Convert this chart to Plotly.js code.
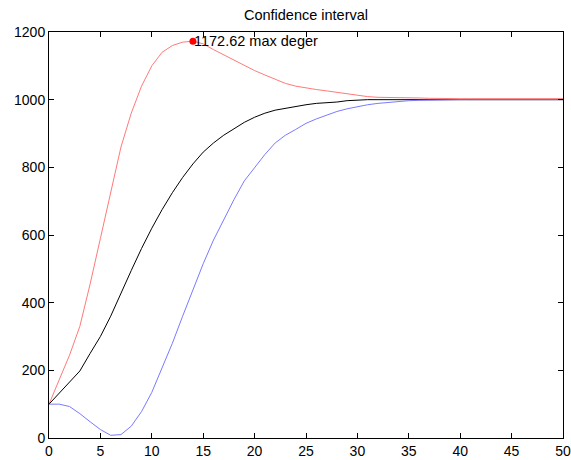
<!DOCTYPE html>
<html>
<head>
<meta charset="utf-8">
<script src="https://cdn.plot.ly/plotly-3.0.1.min.js"></script>
<style>html,body{margin:0;padding:0;background:#fff;}#chart{width:571px;height:460px;}</style>
</head>
<body>
<div id="chart"></div>
<script>
var steps = [0,1,2,3,4,5,6,7,8,9,10,11,12,13,14,15,16,17,18,19,20,21,22,23,24,25,26,27,28,29,30,31,32,33,34,35,36,37,38,39,40,41,42,43,44,45,46,47,48,49,50];
var meanVals = [100,133,166,198,250,300,360,430,495,560,620,675,725,770,810,845,872,895,915,933,948,960,969,975,980,985,989,990,993,997,999,1000,1000,1000,1000,1000,1000,1000,1000,1000,1000,1000,1000,1000,1000,1000,1000,1000,1000,1000,1000];
var upperVals = [100,172,245,330,455,590,725,860,960,1040,1100,1140,1160,1170,1172.62,1165,1148,1132,1116,1100,1086,1073,1060,1048,1040,1034,1030,1026,1022,1016,1012,1009,1007,1007,1006,1006,1005,1004,1003,1003,1003,1003,1003,1003,1003,1003,1003,1003,1003,1003,1003];
var lowerVals = [100,100,93,72,48,25,8,10,35,78,135,205,280,360,440,515,585,645,705,760,800,838,872,895,912,930,943,955,965,973,980,985,989,992,995,997,998,999,1000,1000,1000,1000,1000,1000,1000,1000,1000,1000,1000,1000,1000];
var maxX = [14];
var maxY = [1172.62];
var maxLabel = "1172.62 max deger";
var titleText = "Confidence interval";
var xTicks = [0,5,10,15,20,25,30,35,40,45,50];
var yTicks = [0,200,400,600,800,1000,1200];

var font = "Liberation Sans, Arial, Helvetica, sans-serif";
var traces = [
  {x: steps, y: upperVals, type: "scatter", mode: "lines", line: {color: "#ff7a7a", width: 1}, hoverinfo: "skip"},
  {x: steps, y: meanVals, type: "scatter", mode: "lines", line: {color: "#000000", width: 1}, hoverinfo: "skip"},
  {x: steps, y: lowerVals, type: "scatter", mode: "lines", line: {color: "#7a7aff", width: 1}, hoverinfo: "skip"},
  {x: maxX, y: maxY, type: "scatter", mode: "markers", marker: {color: "#ff0000", size: 7}, hoverinfo: "skip"}
];
var axisCommon = {
  showgrid: false, zeroline: false, showline: true, linecolor: "#000", linewidth: 1,
  mirror: "ticks", ticks: "inside", ticklen: 5, tickwidth: 1, tickcolor: "#000",
  tickfont: {family: font, size: 14, color: "#000"}, fixedrange: true
};
var layout = {
  width: 571, height: 460,
  margin: {l: 49, r: 8, t: 32, b: 22, pad: 0},
  paper_bgcolor: "#fff", plot_bgcolor: "#fff",
  showlegend: false,
  title: {text: titleText, font: {family: font, size: 14.5, color: "#000"}, xref: "paper", x: 0.5, xanchor: "center", yref: "container", y: 0.967, yanchor: "middle"},
  xaxis: Object.assign({}, axisCommon, {range: [0, 50], tickvals: xTicks, ticktext: xTicks.map(String)}),
  yaxis: Object.assign({}, axisCommon, {range: [0, 1200], tickvals: yTicks, ticktext: yTicks.map(String)}),
  annotations: [{x: maxX[0], y: maxY[0], xref: "x", yref: "y", text: maxLabel, showarrow: false, xanchor: "left", yanchor: "middle", xshift: -1, font: {family: font, size: 14.5, color: "#000"}}]
};
Plotly.newPlot("chart", traces, layout, {displayModeBar: false, staticPlot: true});
</script>
</body>
</html>
